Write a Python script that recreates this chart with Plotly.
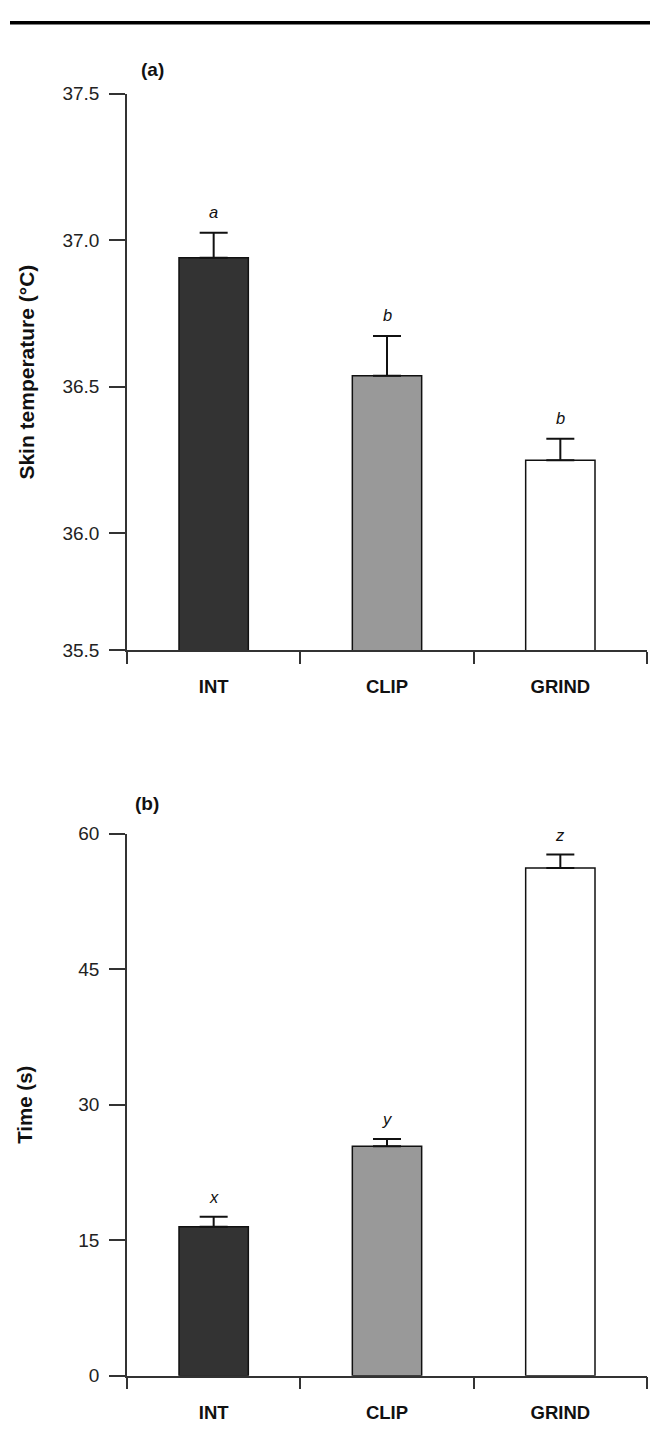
import plotly.graph_objects as go

groups = ["INT", "CLIP", "GRIND"]
bar_colors = ["#333333", "#999999", "#ffffff"]

skin_temp = [36.94, 36.538, 36.249]
skin_temp_err = [0.086, 0.135, 0.074]
skin_letters = ["a", "b", "b"]
skin_tickvals = [35.6, 36.0, 36.5, 37.0, 37.5]
skin_ticktext = ["35.5", "36.0", "36.5", "37.0", "37.5"]

time_s = [16.5, 25.4, 56.2]
time_err = [1.1, 0.8, 1.5]
time_letters = ["x", "y", "z"]
time_tickvals = [0, 15, 30, 45, 60]

FONT = "Liberation Sans, Arial, sans-serif"
W, H = 650, 1436

def py(pix):
    return 1 - pix / H

fig = go.Figure()

fig.add_trace(go.Bar(
    x=groups, y=skin_temp, width=0.4,
    marker=dict(color=bar_colors, line=dict(color="#111111", width=1.5)),
    error_y=dict(type="data", array=skin_temp_err, arrayminus=[0, 0, 0], symmetric=False,
                 color="#111111", thickness=2, width=14),
    xaxis="x", yaxis="y", showlegend=False))

fig.add_trace(go.Bar(
    x=groups, y=time_s, width=0.4,
    marker=dict(color=bar_colors, line=dict(color="#111111", width=1.5)),
    error_y=dict(type="data", array=time_err, arrayminus=[0, 0, 0], symmetric=False,
                 color="#111111", thickness=2, width=14),
    xaxis="x2", yaxis="y2", showlegend=False))

xdom = [127 / W, 647 / W]
xaxis_common = dict(
    domain=xdom, type="category", range=[-0.5, 2.5],
    showline=True, linecolor="#333333", linewidth=1.5,
    ticks="outside", tickson="boundaries", ticklen=12, tickcolor="#333333", tickwidth=1.5,
    tickfont=dict(family=FONT, size=18.5, color="#111111", weight="bold"),
    ticklabelstandoff=19, showgrid=False, zeroline=False,
)
yaxis_common = dict(
    showline=True, linecolor="#333333", linewidth=1.5,
    ticks="outside", ticklen=16, tickcolor="#333333", tickwidth=1.5,
    tickfont=dict(family=FONT, size=19, color="#222222"),
    ticklabelstandoff=6, showgrid=False, zeroline=False,
)

fig.update_layout(
    width=W, height=H,
    margin=dict(l=0, r=0, t=0, b=0),
    paper_bgcolor="white", plot_bgcolor="white",
    xaxis=dict(**xaxis_common, anchor="y"),
    yaxis=dict(**yaxis_common, anchor="x", domain=[py(650), py(85)],
               range=[35.6, 37.5], tickvals=skin_tickvals, ticktext=skin_ticktext,
               title=dict(text="Skin temperature (°C)", standoff=22,
                          font=dict(family=FONT, size=21, color="#111111", weight="bold"))),
    xaxis2=dict(**xaxis_common, anchor="y2"),
    yaxis2=dict(**yaxis_common, anchor="x2", domain=[py(1386), py(836)],
                range=[0, 60], tickvals=time_tickvals,
                title=dict(text="Time (s)", standoff=40,
                           font=dict(family=FONT, size=20.5, color="#111111", weight="bold"))),
)

annotations = []
for g, v, e, t in zip(groups, skin_temp, skin_temp_err, skin_letters):
    annotations.append(dict(x=g, y=v + e, xref="x", yref="y", text=f"<i>{t}</i>",
                            showarrow=False, yshift=21,
                            font=dict(family=FONT, size=16.5, color="#111111")))
for g, v, e, t in zip(groups, time_s, time_err, time_letters):
    annotations.append(dict(x=g, y=v + e, xref="x2", yref="y2", text=f"<i>{t}</i>",
                            showarrow=False, yshift=20,
                            font=dict(family=FONT, size=16.5, color="#111111")))
annotations.append(dict(x=139 / W, y=py(60), xref="paper", yref="paper", text="<b>(a)</b>",
                        xanchor="left", yanchor="middle",
                        showarrow=False, font=dict(family=FONT, size=19, color="#111111")))
annotations.append(dict(x=133 / W, y=py(805), xref="paper", yref="paper", text="<b>(b)</b>",
                        xanchor="left", yanchor="middle",
                        showarrow=False, font=dict(family=FONT, size=19, color="#111111")))
fig.update_layout(annotations=annotations)

fig.add_shape(type="line", xref="paper", yref="paper",
              x0=10 / W, x1=1, y0=py(13), y1=py(13),
              line=dict(color="#000000", width=3.5))

fig.write_html("out.html")
